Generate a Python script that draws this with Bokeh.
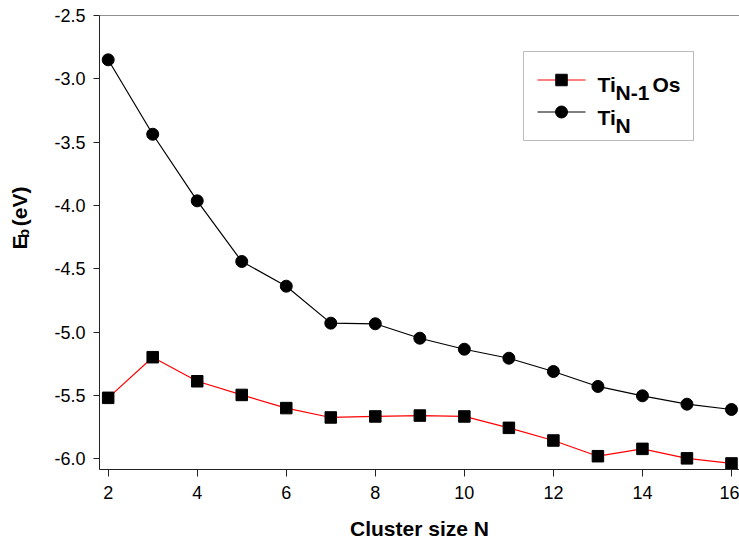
import math
from bokeh.plotting import figure
from bokeh.layouts import row
from bokeh.models import (Range1d, FixedTicker, PrintfTickFormatter, Span, Label,
                          BoxAnnotation)
from bokeh.core.properties import value
from bokeh.embed import file_html
from bokeh.resources import INLINE

# ---- data ----
cluster_size = [2, 3, 4, 5, 6, 7, 8, 9, 10, 11, 12, 13, 14, 15, 16]
ti_n1_os = [-5.520, -5.199, -5.389, -5.497, -5.601, -5.675, -5.667, -5.660,
            -5.667, -5.757, -5.857, -5.981, -5.923, -5.998, -6.038]
ti_n = [-2.850, -3.438, -3.964, -4.443, -4.638, -4.930, -4.935, -5.049,
        -5.136, -5.207, -5.312, -5.430, -5.504, -5.570, -5.612]
x_ticks = [2, 4, 6, 8, 10, 12, 14, 16]
y_ticks = [-6.0, -5.5, -5.0, -4.5, -4.0, -3.5, -3.0, -2.5]

FONT = "Liberation Sans"
W, H = 739, 545
SIDE = 44                      # width of the strip holding the y-axis title
LEFT, RIGHT, TOP, BOTTOM = 99, 0, 15, 76
X0, X1 = 1.805, 16.18
Y0, Y1 = -6.086, -2.5

p = figure(width=W - SIDE, height=H, output_backend="svg", toolbar_location=None,
           x_range=Range1d(X0, X1), y_range=Range1d(Y0, Y1),
           min_border_left=LEFT - SIDE, min_border_right=RIGHT, min_border_top=TOP,
           min_border_bottom=BOTTOM)
p.outline_line_color = None
p.grid.visible = False
p.background_fill_color = "white"
p.border_fill_color = "white"

for ax in (p.xaxis[0], p.yaxis[0]):
    ax.axis_line_color = "#222222"
    ax.axis_line_width = 1
    ax.major_tick_line_color = "#222222"
    ax.minor_tick_line_color = None
    ax.major_tick_in = 0
    ax.major_label_text_font = FONT
    ax.major_label_text_font_size = "18px"
    ax.major_label_text_color = "black"

p.xaxis[0].ticker = FixedTicker(ticks=x_ticks)
p.xaxis[0].major_tick_out = 7
p.xaxis[0].major_label_standoff = 9
p.xaxis[0].axis_label = "Cluster size N"
p.xaxis[0].axis_label_text_font = FONT
p.xaxis[0].axis_label_text_font_size = "21px"
p.xaxis[0].axis_label_text_font_style = "bold"
p.xaxis[0].axis_label_text_color = "black"
p.xaxis[0].axis_label_standoff = 15
p.yaxis[0].ticker = FixedTicker(ticks=y_ticks)
p.yaxis[0].formatter = PrintfTickFormatter(format="%.1f")
p.yaxis[0].major_tick_out = 6
p.yaxis[0].major_label_standoff = 8

# page pixel -> data helpers for placing decorations/text
fw = W - LEFT - RIGHT
fh = H - TOP - BOTTOM
def dx(px):
    return X0 + (px - LEFT) * (X1 - X0) / fw
def dy(py):
    return Y1 - (py - TOP) * (Y1 - Y0) / fh

# top frame line
p.add_layout(Span(location=Y1, dimension="width", line_color="#222222", line_width=1))

# series
p.line(cluster_size, ti_n1_os, line_color="#ff0000", line_width=1.2)
p.scatter(cluster_size, ti_n1_os, marker="square", size=11.5,
          fill_color="black", line_color="black")
p.line(cluster_size, ti_n, line_color="black", line_width=1.2)
p.scatter(cluster_size, ti_n, marker="circle", size=12,
          fill_color="black", line_color="black")

# hand-built legend (box, sample lines/markers, sub-scripted texts)
p.add_layout(BoxAnnotation(left=dx(523), right=dx(693), top=dy(51), bottom=dy(140),
                           fill_color="white", fill_alpha=1.0,
                           line_color="#222222", line_width=1, level="underlay"))
p.line([dx(537), dx(585)], [dy(79.5), dy(79.5)], line_color="#ff0000", line_width=1.2)
p.scatter([dx(561)], [dy(79.5)], marker="square", size=11.5,
          fill_color="black", line_color="black")
p.line([dx(537), dx(585)], [dy(111.5), dy(111.5)], line_color="black", line_width=1.2)
p.scatter([dx(561)], [dy(111.5)], marker="circle", size=12,
          fill_color="black", line_color="black")

def lbl(px, py, text, size="21px"):
    p.add_layout(Label(x=dx(px), y=dy(py), text=text, text_color="black",
                       text_font=FONT, text_font_size=size, text_font_style="bold",
                       text_baseline="alphabetic"))

lbl(597, 84, "Ti")
lbl(615, 92, "N-1")
lbl(652, 84, "Os")
lbl(597, 117, "Ti")
lbl(615, 125, "N")

# left strip carrying the rotated y-axis title (with subscript)
s = figure(width=SIDE, height=H, output_backend="svg", toolbar_location=None,
           x_range=Range1d(0, SIDE), y_range=Range1d(0, H),
           x_axis_type=None, y_axis_type=None, min_border=0)
s.outline_line_color = None
s.grid.visible = False
s.border_fill_color = "white"
def vtext(px, py, text, size):
    s.text(x=[px], y=[H - py], text=[text], angle=math.pi / 2,
           text_font=value(FONT), text_font_size=value(size),
           text_font_style="bold", text_color="black",
           text_align="left", text_baseline="alphabetic")
vtext(19, 281, "E", "21px")
vtext(23, 267, "b", "15px")
vtext(19, 253, "(eV)", "21px")

layout = row(s, p, spacing=0)
open("out.html", "w").write(file_html(layout, INLINE))
